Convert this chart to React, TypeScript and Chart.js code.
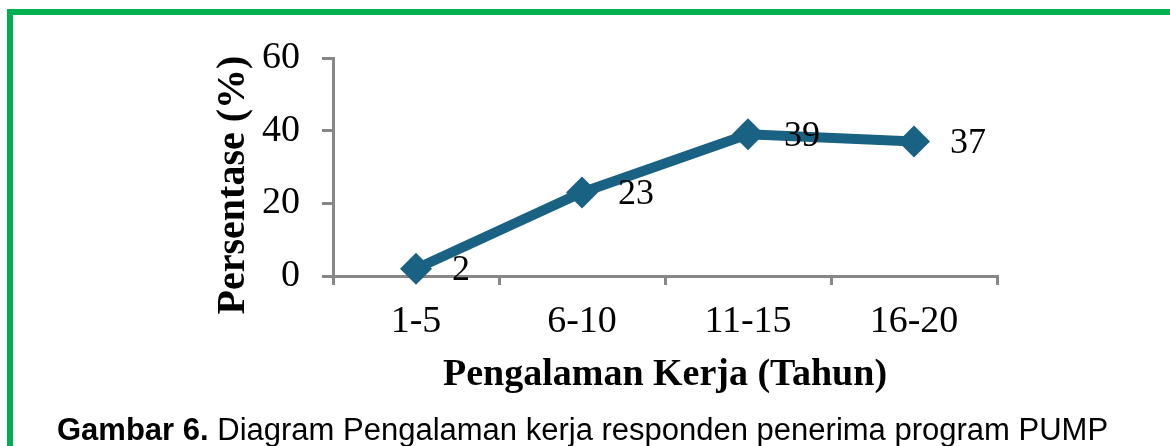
import React, { useEffect, useRef } from "react";
import { Chart, registerables } from "chart.js";

Chart.register(...registerables);

const categories = ["1-5", "6-10", "11-15", "16-20"];
const persentase = [2, 23, 39, 37];
const valueLabels = ["2", "23", "39", "37"];
const yTickValues = [0, 20, 40, 60];
const yTitle = "Persentase (%)";
const xTitle = "Pengalaman Kerja (Tahun)";

const LINE_COLOR = "#1A6283";
const AXIS_COLOR = "#878787";
const SERIF = "'Liberation Serif', 'Times New Roman', serif";

const valueLabelPlugin = {
  id: "valueLabels",
  afterDatasetsDraw(chart: any) {
    const meta = chart.getDatasetMeta(0);
    const ctx = chart.ctx;
    ctx.save();
    ctx.font = `36px ${SERIF}`;
    ctx.fillStyle = "#000";
    ctx.textAlign = "left";
    ctx.textBaseline = "middle";
    meta.data.forEach((pt: any, i: number) => {
      ctx.fillText(valueLabels[i], pt.x + 36, pt.y + 2);
    });
    ctx.restore();
  },
};

const yTitlePlugin = {
  id: "yTitle",
  afterDraw(chart: any) {
    const ctx = chart.ctx;
    const area = chart.chartArea;
    ctx.save();
    ctx.font = `bold 40px ${SERIF}`;
    ctx.fillStyle = "#000";
    ctx.textAlign = "center";
    ctx.textBaseline = "middle";
    ctx.translate(area.left - 99, (area.top + area.bottom) / 2 + 18);
    ctx.rotate(-Math.PI / 2);
    ctx.fillText(yTitle, 0, 0);
    ctx.restore();
  },
};

export default function App() {
  const canvasRef = useRef<HTMLCanvasElement | null>(null);

  useEffect(() => {
    if (!canvasRef.current) return;
    const chart = new Chart(canvasRef.current, {
      type: "line",
      data: {
        labels: categories,
        datasets: [
          {
            data: persentase,
            borderColor: LINE_COLOR,
            backgroundColor: LINE_COLOR,
            borderWidth: 10,
            pointStyle: "rectRot",
            pointRadius: 16,
            pointHoverRadius: 16,
            pointBorderWidth: 0,
            pointBackgroundColor: LINE_COLOR,
            tension: 0,
            clip: false,
          } as any,
        ],
      },
      options: {
        animation: false,
        responsive: false,
        maintainAspectRatio: false,
        events: [],
        layout: { padding: { left: 192, right: 173, top: 58, bottom: 36 } },
        plugins: {
          legend: { display: false },
          tooltip: { enabled: false },
        },
        scales: {
          x: {
            type: "category",
            offset: true,
            afterFit: (s: any) => {
              s.height = 134;
            },
            grid: {
              offset: true,
              drawOnChartArea: false,
              drawTicks: true,
              tickLength: 9,
              color: AXIS_COLOR,
              lineWidth: 3,
            },
            border: { display: true, color: AXIS_COLOR, width: 3 },
            ticks: {
              color: "#000",
              padding: 14,
              font: { family: SERIF, size: 38 },
              maxRotation: 0,
              autoSkip: false,
            },
            title: {
              display: true,
              text: xTitle,
              color: "#000",
              font: { family: SERIF, size: 38, weight: "bold" },
              padding: { top: 0, bottom: 12 },
            },
          },
          y: {
            min: 0,
            max: 60,
            afterFit: (s: any) => {
              s.width = 141;
            },
            afterBuildTicks: (s: any) => {
              s.ticks = yTickValues.map((v) => ({ value: v }));
            },
            grid: {
              drawOnChartArea: false,
              drawTicks: true,
              tickLength: 11,
              color: AXIS_COLOR,
              lineWidth: 3,
            },
            border: { display: true, color: AXIS_COLOR, width: 3 },
            ticks: {
              color: "#000",
              padding: 22,
              font: { family: SERIF, size: 38 },
            },
            title: { display: false },
          },
        },
      },
      plugins: [valueLabelPlugin, yTitlePlugin],
    });
    return () => chart.destroy();
  }, []);

  return (
    <div
      style={{
        position: "absolute",
        left: 0,
        top: 0,
        width: 1170,
        height: 446,
        background: "#fff",
        overflow: "hidden",
      }}
    >
      <canvas
        ref={canvasRef}
        width={1170}
        height={446}
        style={{ position: "absolute", left: 0, top: 0, width: 1170, height: 446 }}
      />
      <div
        style={{
          position: "absolute",
          left: 7,
          top: 9,
          width: 1170,
          height: 6,
          background: "#00B050",
        }}
      />
      <div
        style={{
          position: "absolute",
          left: 7,
          top: 9,
          width: 6,
          height: 446,
          background: "#00B050",
        }}
      />
      <div
        style={{
          position: "absolute",
          left: 57,
          top: 414,
          fontFamily: "'Liberation Sans', Arial, sans-serif",
          fontSize: 31,
          lineHeight: "31px",
          whiteSpace: "nowrap",
          color: "#000",
        }}
      >
        <b>Gambar 6.</b> Diagram Pengalaman kerja responden penerima program PUMP
      </div>
    </div>
  );
}
